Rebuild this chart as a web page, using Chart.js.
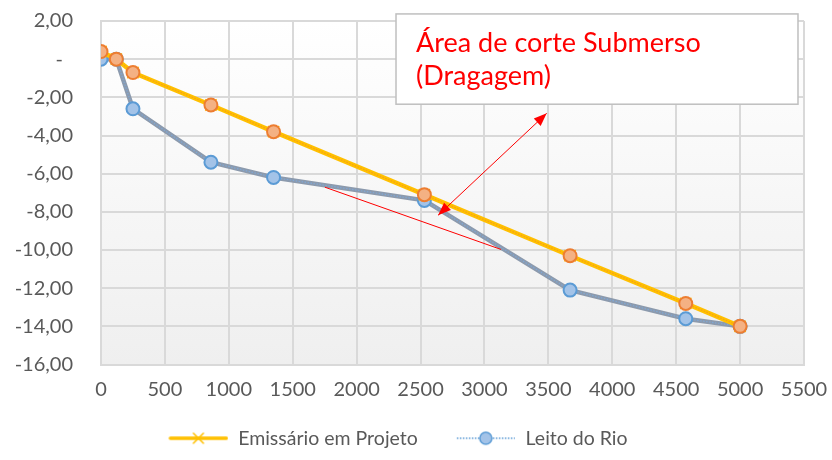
<!DOCTYPE html>
<html>
<head>
<meta charset="utf-8">
<script src="https://cdn.jsdelivr.net/npm/chart.js@4.4.1/dist/chart.umd.min.js"></script>
<style>
  html, body { margin: 0; padding: 0; background: #fff; }
  #wrap { width: 832px; height: 460px; }
</style>
</head>
<body>
<div id="wrap"><canvas id="canPerfil"></canvas></div>
<script>
// distance along the section (m) and depth (m)
const distancias = [0, 120, 250, 860, 1350, 2530, 3670, 4575, 5000]
const cotasEmissario = [0.4, 0, -0.7, -2.4, -3.8, -7.1, -10.3, -12.8, -14.0]
const cotasLeito = [0, 0, -2.6, -5.4, -6.2, -7.4, -12.1, -13.6, -14.0]
const serieNomes = ['Emissário em Projeto', 'Leito do Rio']
const notaLinhas = ['Área de corte Submerso', '(Dragagem)']

const FONT = 'Lato'
const TXT = '#595959'

function pts (xs, ys) {
  return xs.map((x, i) => ({ x: x, y: ys[i] }))
}

function legendIcon (kind) {
  const c = document.createElement('canvas')
  c.width = 84
  c.height = 18
  const ctx = c.getContext('2d')
  const x0 = 24
  const cx = x0 + 30
  const cy = 9
  if (kind === 0) {
    ctx.strokeStyle = '#FFC000'
    ctx.lineWidth = 3.5
    ctx.lineCap = 'round'
    ctx.beginPath(); ctx.moveTo(x0 + 2, cy); ctx.lineTo(x0 + 58, cy); ctx.stroke()
    ctx.lineWidth = 1.5
    ctx.beginPath()
    ctx.moveTo(cx - 5, cy - 5); ctx.lineTo(cx + 5, cy + 5)
    ctx.moveTo(cx + 5, cy - 5); ctx.lineTo(cx - 5, cy + 5)
    ctx.stroke()
  } else {
    ctx.strokeStyle = '#5B9BD5'
    ctx.lineWidth = 1.3
    ctx.setLineDash([1.5, 1.5])
    ctx.beginPath(); ctx.moveTo(x0 + 1, cy); ctx.lineTo(x0 + 59, cy); ctx.stroke()
    ctx.setLineDash([])
    ctx.fillStyle = '#A3C3E8'
    ctx.lineWidth = 1.5
    ctx.beginPath(); ctx.arc(cx, cy, 6, 0, Math.PI * 2); ctx.fill(); ctx.stroke()
  }
  return c
}

const plotBackground = {
  id: 'plotBackground',
  afterLayout (chart) {
    // nudge legend a little to the left, like the original
    if (chart.legend) {
      chart.legend.left -= 16
      chart.legend.right -= 16
      chart.legend.top -= 2
      chart.legend.bottom -= 2
    }
  },
  beforeDraw (chart) {
    const { ctx, chartArea: a } = chart
    const g = ctx.createLinearGradient(0, a.top, 0, a.bottom)
    g.addColorStop(0, '#ffffff')
    g.addColorStop(1, '#efefef')
    ctx.save()
    ctx.fillStyle = g
    ctx.fillRect(a.left, a.top, a.right - a.left, a.bottom - a.top)
    ctx.restore()
  }
}

function arrowHead (ctx, x1, y1, x2, y2) {
  const ang = Math.atan2(y2 - y1, x2 - x1)
  const len = 13
  const w = 5
  ctx.beginPath()
  ctx.moveTo(x2, y2)
  ctx.lineTo(x2 - len * Math.cos(ang) + w * Math.sin(ang), y2 - len * Math.sin(ang) - w * Math.cos(ang))
  ctx.lineTo(x2 - len * Math.cos(ang) - w * Math.sin(ang), y2 - len * Math.sin(ang) + w * Math.cos(ang))
  ctx.closePath()
  ctx.fill()
}

const nota = {
  id: 'nota',
  afterDatasetsDraw (chart) {
    const { ctx, scales: { x, y } } = chart
    ctx.save()
    ctx.strokeStyle = '#FF0000'
    ctx.fillStyle = '#FF0000'
    ctx.lineWidth = 1

    // double arrow
    const ax1 = x.getPixelForValue(2637), ay1 = y.getPixelForValue(-8.18)
    const ax2 = x.getPixelForValue(3487), ay2 = y.getPixelForValue(-2.84)
    ctx.beginPath(); ctx.moveTo(ax1, ay1); ctx.lineTo(ax2, ay2); ctx.stroke()
    arrowHead(ctx, ax1, ay1, ax2, ay2)
    arrowHead(ctx, ax2, ay2, ax1, ay1)

    // plain line
    ctx.beginPath()
    ctx.moveTo(x.getPixelForValue(1752), y.getPixelForValue(-6.71))
    ctx.lineTo(x.getPixelForValue(3129), y.getPixelForValue(-9.97))
    ctx.stroke()

    // text box
    const bx1 = x.getPixelForValue(2308), bx2 = x.getPixelForValue(5453)
    const by1 = y.getPixelForValue(2.37), by2 = y.getPixelForValue(-2.36)
    ctx.fillStyle = '#ffffff'
    ctx.fillRect(bx1, by1, bx2 - bx1, by2 - by1)
    ctx.strokeStyle = '#bfbfbf'
    ctx.lineWidth = 1.5
    ctx.strokeRect(bx1, by1, bx2 - bx1, by2 - by1)
    ctx.fillStyle = '#FF0000'
    ctx.font = '27px ' + FONT
    ctx.textBaseline = 'alphabetic'
    ctx.fillText(notaLinhas[0], bx1 + 20, by1 + 38)
    ctx.fillText(notaLinhas[1], bx1 + 20, by1 + 71)
    ctx.restore()
  }
}

function noPad (s) {
  s.paddingTop = 0
  s.paddingBottom = 0
  s.paddingLeft = 0
  s.paddingRight = 0
}

const cPerfil = document.getElementById('canPerfil')

if (cPerfil) {
  new Chart(cPerfil, {
    type: 'scatter',
    data: {
      datasets: [
        {
          // gray body of the river bed line
          label: '',
          data: pts(distancias, cotasLeito),
          showLine: true,
          borderColor: '#8C9AAD',
          borderWidth: 4.5,
          pointRadius: 0,
          order: 4
        },
        {
          label: serieNomes[1],
          data: pts(distancias, cotasLeito),
          showLine: true,
          borderColor: '#7FA8D6',
          borderWidth: 1.2,
          borderDash: [1.5, 1.5],
          pointRadius: 6.5,
          pointBackgroundColor: '#A3C3E8',
          pointBorderColor: '#5B9BD5',
          pointBorderWidth: 2,
          order: 3
        },
        {
          label: serieNomes[0],
          data: pts(distancias, cotasEmissario),
          showLine: true,
          borderColor: '#FFC000',
          borderWidth: 4.5,
          pointStyle: 'crossRot',
          pointRadius: 8,
          pointBorderColor: '#FFC000',
          pointBorderWidth: 1.5,
          order: 2
        },
        {
          // orange markers over the design line
          label: '',
          data: pts(distancias, cotasEmissario),
          showLine: true,
          borderColor: 'rgba(237,125,49,0.45)',
          borderWidth: 1.2,
          borderDash: [1.5, 1.5],
          pointRadius: 6.5,
          pointBackgroundColor: '#F4B183',
          pointBorderColor: '#ED7D31',
          pointBorderWidth: 2,
          order: 1
        }
      ]
    },
    options: {
      responsive: true,
      maintainAspectRatio: false,
      animation: false,
      layout: { padding: { top: 21, right: 28, left: 0, bottom: 0 } },
      scales: {
        x: {
          type: 'linear',
          min: 0,
          max: 5500,
          afterFit (s) { s.height = 52; noPad(s) },
          border: { color: '#d9d9d9', width: 2 },
          grid: { color: '#d9d9d9', lineWidth: 2, drawTicks: false },
          ticks: {
            stepSize: 500,
            padding: 13,
            color: TXT,
            font: { family: FONT, size: 20 },
            maxRotation: 0,
            callback: (v) => String(v)
          }
        },
        y: {
          min: -16,
          max: 2,
          afterFit (s) { s.width = 101; noPad(s) },
          border: { color: '#d9d9d9', width: 2 },
          grid: { color: '#d9d9d9', lineWidth: 2, drawTicks: false },
          ticks: {
            stepSize: 2,
            padding: 28,
            color: TXT,
            font: { family: FONT, size: 20 },
            callback: (v) => v === 0 ? '-\u2002' : v.toFixed(2).replace('.', ',')
          }
        }
      },
      plugins: {
        tooltip: { enabled: false },
        legend: {
          position: 'bottom',
          labels: {
            usePointStyle: true,
            pointStyleWidth: 84,
            padding: 14,
            color: TXT,
            font: { family: FONT, size: 19.5 },
            generateLabels: () => [
              { text: serieNomes[0], pointStyle: legendIcon(0), fontColor: TXT, lineWidth: 0, hidden: false, datasetIndex: 2 },
              { text: serieNomes[1], pointStyle: legendIcon(1), fontColor: TXT, lineWidth: 0, hidden: false, datasetIndex: 1 }
            ]
          }
        }
      }
    },
    plugins: [plotBackground, nota]
  })
}
</script>
</body>
</html>
